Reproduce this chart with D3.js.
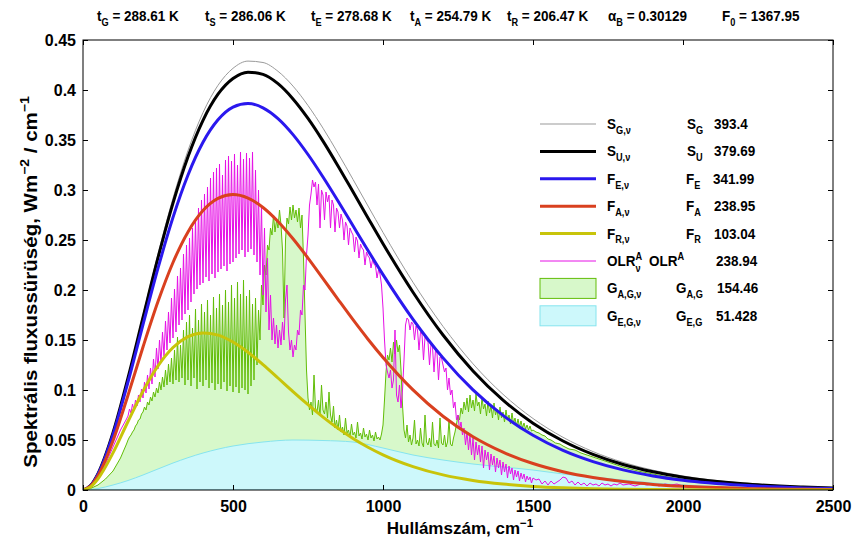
<!DOCTYPE html>
<html><head><meta charset="utf-8">
<script src="https://cdn.jsdelivr.net/npm/d3@7"></script>
<style>
body{margin:0;background:#fff}
svg{display:block}
text{font-family:"Liberation Sans",Arial,sans-serif;font-weight:bold;fill:#000}
</style></head><body>
<svg id="c" width="855" height="545"></svg>
<script>
// ---------------- DATA ----------------
const xTicks = [0, 500, 1000, 1500, 2000, 2500];
const xTickLabels = ["0", "500", "1000", "1500", "2000", "2500"];
const yTicks = [0, 0.05, 0.1, 0.15, 0.2, 0.25, 0.3, 0.35, 0.4, 0.45];
const yTickLabels = ["0", "0.05", "0.1", "0.15", "0.2", "0.25", "0.3", "0.35", "0.4", "0.45"];

// header values
const headerSym = ["t", "t", "t", "t", "t", "α", "F"];
const headerSub = ["G", "S", "E", "A", "R", "B", "0"];
const headerVal = [" = 288.61 K", " = 286.06 K", " = 278.68 K", " = 254.79 K", " = 206.47 K", " = 0.30129", " = 1367.95"];

// smooth spectra (wavenumber grid, cm-1)
const planckWn = [0,25,50,100,150,200,250,300,350,400,450,500,550,600,650,700,750,800,850,900,950,1000,1100,1200,1300,1400,1500,1600,1700,1800,1900,2000,2200,2400,2500];
const sG = [0,0.0044,0.0165,0.0579,0.1135,0.1750,0.2360,0.2918,0.3395,0.3774,0.4047,0.4217,0.4289,0.4275,0.4187,0.4039,0.3845,0.3618,0.3368,0.3106,0.2840,0.2576,0.2077,0.1636,0.1262,0.0957,0.0715,0.0527,0.0384,0.0277,0.0198,0.0140,0.0069,0.0033,0.0023];
const sU = [0,0.0044,0.0164,0.0572,0.1121,0.1726,0.2323,0.2869,0.3332,0.3697,0.3958,0.4115,0.4178,0.4156,0.4063,0.3911,0.3716,0.3489,0.3241,0.2982,0.2721,0.2463,0.1978,0.1550,0.1191,0.0899,0.0668,0.0490,0.0356,0.0255,0.0182,0.0128,0.0062,0.0030,0.0020];
const fE = [0,0.0042,0.0159,0.0554,0.1080,0.1655,0.2218,0.2726,0.3150,0.3477,0.3702,0.3829,0.3865,0.3822,0.3714,0.3554,0.3355,0.3130,0.2890,0.2642,0.2395,0.2154,0.1707,0.1321,0.1001,0.0746,0.0547,0.0396,0.0284,0.0201,0.0141,0.0098,0.0047,0.0021,0.0015];
const fA = [0,0.0039,0.0143,0.0493,0.0948,0.1430,0.1884,0.2275,0.2581,0.2794,0.2916,0.2954,0.2919,0.2825,0.2685,0.2512,0.2319,0.2114,0.1907,0.1703,0.1508,0.1325,0.1001,0.0738,0.0533,0.0379,0.0265,0.0183,0.0125,0.0084,0.0056,0.0037,0.0016,0.0007,0.0004];
const fR = [0,0.0031,0.0112,0.0371,0.0685,0.0988,0.1241,0.1425,0.1534,0.1571,0.1549,0.1480,0.1378,0.1254,0.1120,0.0984,0.0853,0.0729,0.0617,0.0516,0.0428,0.0352,0.0234,0.0151,0.0096,0.0060,0.0036,0.0022,0.0013,0.0008,0.0005,0.0003,0.0001,0.00003,0.00002];

const gegWn = [0,50,100,150,200,300,400,500,600,700,800,900,1000,1100,1200,1300,1400,1500,1600,1700,1800,1900,2000,2200,2500];
const geg = [0,0.0015,0.005,0.0095,0.015,0.027,0.037,0.044,0.048,0.050,0.0495,0.048,0.042,0.035,0.030,0.026,0.023,0.020,0.016,0.013,0.010,0.007,0.005,0.0025,0.001];

// noisy spectra: head [wn,value], body every 5 cm-1 from 150 to 1500, tail [wn,value]
const bodyStart = 150, bodyStep = 5;

const olrHead = [[0,0],[25,0.0036],[50,0.013],[75,0.026],[100,0.043],[125,0.060],[145,0.071]];
const olrBody = [
0.074,0.081,0.077,0.086,0.080,0.090,0.084,0.095,0.088,0.101,
0.092,0.108,0.097,0.115,0.101,0.122,0.106,0.131,0.113,0.142,
0.121,0.150,0.127,0.158,0.134,0.169,0.140,0.178,0.147,0.192,
0.152,0.201,0.158,0.214,0.165,0.222,0.170,0.236,0.176,0.245,
0.180,0.252,0.188,0.262,0.196,0.271,0.201,0.282,0.205,0.290,
0.207,0.296,0.213,0.303,0.209,0.312,0.216,0.318,0.212,0.322,
0.218,0.326,0.221,0.315,0.224,0.330,0.219,0.334,0.226,0.329,
0.228,0.336,0.232,0.325,0.236,0.338,0.240,0.331,0.233,0.337,
0.238,0.332,0.241,0.338,0.235,0.320,0.228,0.300,0.215,0.285,
0.195,0.262,0.178,0.232,0.160,0.195,0.150,0.172,0.146,0.165,
0.142,0.160,0.145,0.168,0.150,0.190,0.205,0.158,0.140,0.150,
0.133,0.145,0.140,0.160,0.155,0.180,0.175,0.205,0.200,0.235,
0.255,0.285,0.296,0.310,0.303,0.308,0.285,0.306,0.262,0.300,
0.295,0.270,0.298,0.288,0.295,0.262,0.290,0.285,0.258,0.282,
0.278,0.262,0.276,0.270,0.250,0.268,0.264,0.245,0.262,0.258,
0.255,0.238,0.253,0.249,0.232,0.246,0.242,0.240,0.225,0.238,
0.234,0.232,0.222,0.230,0.226,0.224,0.212,0.220,0.216,0.205,
0.182,0.150,0.125,0.118,0.112,0.120,0.102,0.110,0.160,0.095,
0.088,0.105,0.082,0.100,0.130,0.165,0.172,0.170,0.160,0.168,
0.166,0.150,0.164,0.160,0.140,0.158,0.156,0.130,0.153,0.150,
0.148,0.125,0.146,0.143,0.118,0.140,0.137,0.110,0.133,0.132,
0.125,0.118,0.122,0.100,0.112,0.095,0.100,0.082,0.088,0.070,
0.075,0.060,0.068,0.055,0.062,0.045,0.058,0.040,0.055,0.035,
0.052,0.030,0.048,0.035,0.045,0.028,0.044,0.022,0.040,0.030,
0.038,0.020,0.036,0.025,0.034,0.018,0.032,0.022,0.030,0.015,
0.028,0.018,0.026,0.012,0.024,0.016,0.022,0.010,0.020,0.013,
0.019,0.009,0.017,0.011,0.016,0.008,0.014,0.010,0.013,0.007,
0.012];
const olrTail = [[1510,0.010],[1520,0.011],[1530,0.006],[1540,0.009],[1550,0.005],[1560,0.009],[1570,0.006],[1580,0.008],[1590,0.010],[1600,0.013],[1610,0.012],[1620,0.007],[1630,0.009],[1640,0.005],[1650,0.008],[1660,0.005],[1670,0.007],[1680,0.004],[1690,0.007],[1700,0.005],[1710,0.006],[1720,0.004],[1730,0.007],[1740,0.005],[1750,0.006],[1760,0.004],[1770,0.006],[1780,0.005],[1790,0.007],[1800,0.005],[1820,0.006],[1840,0.004],[1860,0.006],[1880,0.005],[1900,0.006],[1920,0.004],[1940,0.006],[1960,0.005],[1980,0.006],[2000,0.004],[2050,0.0035],[2100,0.003],[2150,0.0025],[2200,0.002],[2300,0.0013],[2400,0.0008],[2500,0.0005]];

const gagHead = [[0,0],[25,0.0015],[50,0.005],[75,0.011],[100,0.019],[125,0.032],[145,0.046]];
const gagBody = [
0.050,0.053,0.055,0.058,0.060,0.064,0.066,0.070,0.071,0.076,
0.078,0.083,0.080,0.088,0.085,0.093,0.089,0.098,0.093,0.102,
0.097,0.108,0.100,0.113,0.103,0.120,0.105,0.126,0.108,0.132,
0.106,0.140,0.110,0.153,0.108,0.145,0.112,0.160,0.105,0.168,
0.110,0.175,0.104,0.162,0.112,0.181,0.101,0.170,0.108,0.186,
0.104,0.178,0.110,0.190,0.102,0.175,0.107,0.193,0.100,0.182,
0.106,0.196,0.101,0.185,0.108,0.200,0.099,0.188,0.104,0.205,
0.098,0.192,0.103,0.208,0.097,0.196,0.102,0.210,0.100,0.194,
0.096,0.200,0.104,0.186,0.110,0.192,0.125,0.180,0.150,0.205,
0.185,0.225,0.215,0.245,0.240,0.262,0.255,0.275,0.258,0.270,
0.262,0.280,0.265,0.240,0.172,0.250,0.272,0.266,0.283,0.270,
0.285,0.272,0.280,0.268,0.282,0.262,0.275,0.232,0.175,0.120,
0.092,0.080,0.088,0.075,0.115,0.082,0.078,0.090,0.074,0.105,
0.080,0.076,0.088,0.072,0.098,0.075,0.068,0.084,0.062,0.070,
0.060,0.075,0.058,0.063,0.055,0.072,0.057,0.060,0.053,0.066,
0.055,0.058,0.052,0.068,0.054,0.057,0.051,0.062,0.053,0.056,
0.050,0.060,0.052,0.055,0.049,0.058,0.051,0.053,0.050,0.056,
0.065,0.090,0.118,0.135,0.130,0.142,0.128,0.148,0.136,0.150,
0.138,0.145,0.120,0.085,0.060,0.052,0.065,0.048,0.055,0.045,
0.052,0.070,0.046,0.050,0.044,0.062,0.047,0.043,0.075,0.048,
0.045,0.052,0.043,0.068,0.046,0.044,0.050,0.042,0.072,0.047,
0.045,0.055,0.043,0.048,0.070,0.046,0.044,0.052,0.058,0.066,
0.075,0.070,0.082,0.076,0.088,0.080,0.092,0.078,0.095,0.082,
0.090,0.079,0.096,0.084,0.088,0.076,0.092,0.081,0.086,0.074,
0.089,0.077,0.084,0.072,0.087,0.075,0.081,0.070,0.083,0.072,
0.078,0.068,0.080,0.070,0.075,0.066,0.077,0.067,0.072,0.064,
0.071,0.063,0.069,0.062,0.067,0.061,0.065,0.060,0.064,0.059,
0.060];
const gagTail = [[1510,0.058],[1520,0.057],[1530,0.055],[1540,0.054],[1550,0.051],[1560,0.050],[1575,0.047],[1590,0.046],[1600,0.044],[1620,0.041],[1640,0.040],[1660,0.037],[1680,0.035],[1700,0.033],[1750,0.028],[1800,0.023],[1850,0.019],[1900,0.016],[1950,0.013],[2000,0.011],[2100,0.0078],[2200,0.0055],[2300,0.0038],[2400,0.0026],[2500,0.0018]];

// legend
const legSym = ["S", "S", "F", "F", "F", "OLR", "G", "G"];
const legSub = ["G,ν", "U,ν", "E,ν", "A,ν", "R,ν", "ν", "A,G,ν", "E,G,ν"];
const legSym2 = ["S", "S", "F", "F", "F", "OLR", "G", "G"];
const legSub2 = ["G", "U", "E", "A", "R", "", "A,G", "E,G"];
const legVal = ["393.4", "379.69", "341.99", "238.95", "103.04", "238.94", "154.46", "51.428"];

// ---------------- DRAW ----------------
const svg = d3.select("#c");
const X0 = 83, X1 = 833, Y0 = 490, Y1 = 40;
const x = d3.scaleLinear().domain([0, 2500]).range([X0, X1]);
const y = d3.scaleLinear().domain([0, 0.45]).range([Y0, Y1]);

svg.append("defs").append("clipPath").attr("id", "clip")
  .append("rect").attr("x", X0).attr("y", Y1).attr("width", X1 - X0).attr("height", Y0 - Y1);

const toPts = (wn, vals) => wn.map((w, i) => [w, vals[i]]);
const noisy = (head, body, tail) => head.concat(body.map((v, i) => [bodyStart + i * bodyStep, v]), tail);

const olrPts = noisy(olrHead, olrBody, olrTail);
const gagPts = noisy(gagHead, gagBody, gagTail);
const gegPts = toPts(gegWn, geg);

const plot = svg.append("g").attr("clip-path", "url(#clip)");

const areaLin = d3.area().x(d => x(d[0])).y0(y(0)).y1(d => y(d[1]));
const areaSmooth = d3.area().x(d => x(d[0])).y0(y(0)).y1(d => y(d[1])).curve(d3.curveMonotoneX);
const lineLin = d3.line().x(d => x(d[0])).y(d => y(d[1]));
const lineSmooth = d3.line().x(d => x(d[0])).y(d => y(d[1])).curve(d3.curveMonotoneX);

plot.append("path").attr("d", areaLin(gagPts)).attr("fill", "#d7f8ca").attr("stroke", "none");
plot.append("path").attr("d", areaSmooth(gegPts)).attr("fill", "#cdf8fb").attr("stroke", "#86e4ee").attr("stroke-width", 1);
plot.append("path").attr("d", lineLin(gagPts)).attr("fill", "none").attr("stroke", "#62bd08").attr("stroke-width", 1);
plot.append("path").attr("d", lineLin(olrPts)).attr("fill", "none").attr("stroke", "#e610e6").attr("stroke-width", 1);

const smooth = [
  [sG, "#9a9a9a", 1],
  [sU, "#000000", 3],
  [fE, "#2a18ee", 3],
  [fA, "#d9401f", 3],
  [fR, "#c8c40a", 3]
];
smooth.forEach(([vals, col, w]) => {
  plot.append("path").attr("d", lineSmooth(toPts(planckWn, vals)))
    .attr("fill", "none").attr("stroke", col).attr("stroke-width", w);
});

// axes
const fmtX = d => xTickLabels[xTicks.indexOf(d)];
const fmtY = d => yTickLabels[yTicks.indexOf(d)];
const axB = svg.append("g").attr("transform", `translate(0,${Y0})`)
  .call(d3.axisBottom(x).tickValues(xTicks).tickFormat(fmtX).tickSize(-5).tickPadding(11));
const axL = svg.append("g").attr("transform", `translate(${X0},0)`)
  .call(d3.axisLeft(y).tickValues(yTicks).tickFormat(fmtY).tickSize(-5).tickPadding(7));
const axT = svg.append("g").attr("transform", `translate(0,${Y1})`)
  .call(d3.axisTop(x).tickValues(xTicks).tickFormat("").tickSize(-5));
const axR = svg.append("g").attr("transform", `translate(${X1},0)`)
  .call(d3.axisRight(y).tickValues(yTicks).tickFormat("").tickSize(-5));
[axB, axL, axT, axR].forEach(a => {
  a.select(".domain").remove();
  a.selectAll("line").attr("stroke", "#000");
  a.selectAll("text").style("font-family", '"Liberation Sans",Arial,sans-serif')
    .style("font-weight", "bold").style("font-size", "16px").attr("fill", "#000");
});
svg.append("rect").attr("x", X0).attr("y", Y1).attr("width", X1 - X0).attr("height", Y0 - Y1)
  .attr("fill", "none").attr("stroke", "#000").attr("stroke-width", 1);

// rich text helper (with optional horizontal compression)
function rich(g, px, py, parts, size, anchor, sx) {
  const grp = g.append("g").attr("transform", `translate(${px},${py}) scale(${sx || 1},1)`);
  const t = grp.append("text").attr("x", 0).attr("y", 0).style("font-size", size + "px");
  if (anchor) t.attr("text-anchor", anchor);
  let shift = 0;
  parts.forEach(p => {
    const ts = t.append("tspan").text(p.t);
    const target = p.sub ? size * 0.32 : p.sup ? -size * 0.42 : 0;
    ts.attr("dy", target - shift); shift = target;
    if (p.sub || p.sup) ts.style("font-size", (size * 0.68) + "px");
  });
  return {grp, t};
}

// titles
rich(svg, 460, 534, [{t: "Hullámszám, cm"}, {t: "−1", sup: true}], 17, "middle");
rich(svg.append("g").attr("transform", "translate(37,282) rotate(-90)"), 0, 0,
  [{t: "Spektrális fluxussürüség, Wm"}, {t: "−2", sup: true}, {t: " / cm"}, {t: "−1", sup: true}], 18, "middle", 1.14);

// header
const headerX = [97, 205, 311, 410, 507, 608, 722];
headerSym.forEach((s, i) => {
  rich(svg, headerX[i], 21, [{t: s}, {t: headerSub[i], sub: true}, {t: headerVal[i]}], 15, null, 0.9);
});

// legend
const legY0 = 124, legDy = 27.4;
const col2X = [687, 687, 686, 686, 686, 649, 676, 676];
const valX = [714, 714, 713, 714, 714, 716, 717, 716];
const legStyle = [
  ["line", "#9a9a9a", 1.2], ["line", "#000", 3], ["line", "#2a18ee", 3], ["line", "#d9401f", 3],
  ["line", "#c8c40a", 3], ["line", "#e610e6", 1], ["rect", "#d7f8ca", "#62bd08"], ["rect", "#cdf8fb", "#86e4ee"]
];
const leg = svg.append("g");
const fs = 15, lsx = 0.9;
legSym.forEach((s, i) => {
  const yc = legY0 + i * legDy;
  const st = legStyle[i];
  if (st[0] === "line") {
    leg.append("line").attr("x1", 540).attr("x2", 596).attr("y1", yc).attr("y2", yc)
      .attr("stroke", st[1]).attr("stroke-width", st[2]);
  } else {
    leg.append("rect").attr("x", 540).attr("y", yc - 10).attr("width", 56).attr("height", 20)
      .attr("fill", st[1]).attr("stroke", st[2]).attr("stroke-width", 1);
  }
  if (s === "OLR") {
    const r = rich(leg, 607, yc + 5, [{t: "OLR"}, {t: "A", sup: true}], fs, null, lsx);
    const w = r.t.select("tspan").node().getComputedTextLength();
    r.grp.append("text").attr("x", w).attr("y", fs * 0.4)
      .style("font-size", (fs * 0.68) + "px").text(legSub[i]);
    rich(leg, col2X[i], yc + 5, [{t: "OLR"}, {t: "A", sup: true}], fs, null, lsx);
  } else {
    rich(leg, 607, yc + 5, [{t: s}, {t: legSub[i], sub: true}], fs, null, lsx);
    rich(leg, col2X[i], yc + 5, [{t: legSym2[i]}, {t: legSub2[i], sub: true}], fs, null, lsx);
  }
  rich(leg, valX[i], yc + 5, [{t: legVal[i]}], fs, null, lsx);
});
</script>
</body></html>
